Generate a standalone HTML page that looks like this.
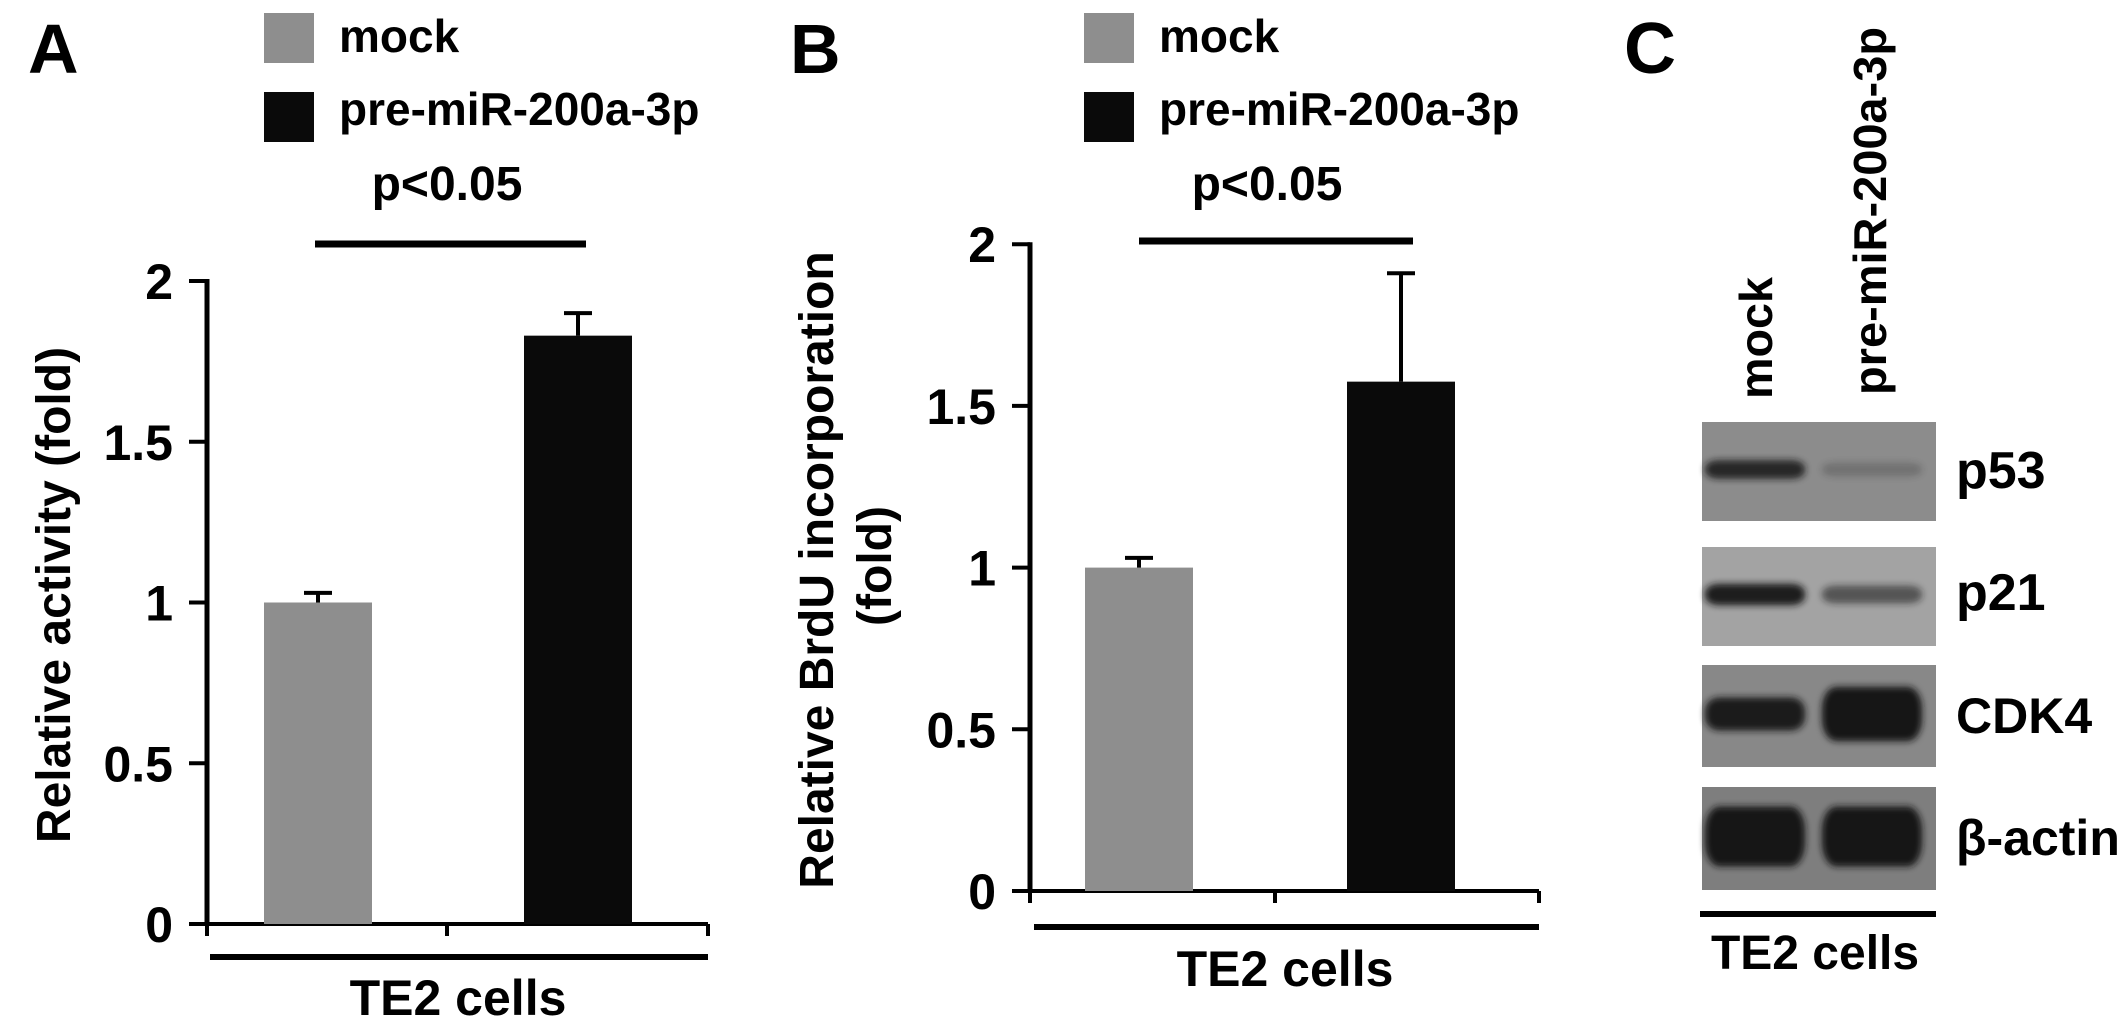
<!DOCTYPE html>
<html><head><meta charset="utf-8"><style>
html,body{margin:0;padding:0;background:#fff;}
svg{display:block;font-family:"Liberation Sans",Arial,sans-serif;font-weight:bold;}
</style></head><body>
<svg id="fig" width="2126" height="1035" viewBox="0 0 2126 1035" xmlns="http://www.w3.org/2000/svg">
<defs>
<filter id="blur3" x="-30%" y="-100%" width="160%" height="300%"><feGaussianBlur stdDeviation="3.5"/></filter>
</defs>
<g id="panelA"></g>
<g id="panelB"></g>
<g id="panelC"></g>
</svg>
<script>
// ---- data ----
const groups = ["mock", "pre-miR-200a-3p"];
const yTicks = [0, 0.5, 1, 1.5, 2];
const yTickLabels = ["0", "0.5", "1", "1.5", "2"];
const valuesA = [1.0, 1.83];
const errorsA = [0.03, 0.07];
const valuesB = [1.0, 1.575];
const errorsB = [0.03, 0.335];
const blotProteins = ["p53", "p21", "CDK4", "β-actin"];
const blotMock = [0.85, 0.95, 0.95, 1.0];
const blotTreated = [0.22, 0.55, 1.0, 1.0];

const NS = "http://www.w3.org/2000/svg";
function mk(parent, tag, attrs, text) {
  const e = document.createElementNS(NS, tag);
  for (const k in attrs) e.setAttribute(k, attrs[k]);
  if (text !== undefined) e.textContent = text;
  parent.appendChild(e);
  return e;
}
const colors = ["#8e8e8e", "#0a0a0a"];

function drawPanel(g, cfg, values, errors) {
  const y = v => cfg.y0 - v * cfg.unit;
  const L = mk(g, "text", {x: cfg.letterX, y: 73, "font-size": 70}, cfg.letter);
  
  
  groups.forEach((gname, i) => {
    const r = mk(g, "rect", {x: cfg.legX, y: 13 + i * 79, width: 50, height: 50, fill: colors[i]});
    
    
    const t = mk(g, "text", {x: cfg.legX + 75, y: 52 + i * 73, "font-size": 46}, gname);
    
    
  });
  const s = mk(g, "line", {x1: cfg.sigX1, x2: cfg.sigX2, y1: cfg.sigY, y2: cfg.sigY, stroke: "#000", "stroke-width": 7});
  
  
  const p = mk(g, "text", {x: cfg.pX, y: 200, "font-size": 48, "text-anchor": "middle"}, "p<0.05");
  
  
  const ax = mk(g, "line", {x1: cfg.axX, x2: cfg.axX, y1: y(2) - 2, y2: y(0) + 2, stroke: "#000", "stroke-width": 5});
  
  
  yTicks.forEach((v, i) => {
    const tk = mk(g, "line", {x1: cfg.axX - 18, x2: cfg.axX, y1: y(v), y2: y(v), stroke: "#000", "stroke-width": 4});
    
    
    const tl = mk(g, "text", {x: cfg.axX - 34, y: y(v) + 18, "font-size": 50, "text-anchor": "end"}, yTickLabels[i]);
    
    
  });
  const xa = mk(g, "line", {x1: cfg.xaX1, x2: cfg.xaX2, y1: y(0), y2: y(0), stroke: "#000", "stroke-width": 4});
  
  
  cfg.xTicks.forEach(xt => {
    const t = mk(g, "line", {x1: xt, x2: xt, y1: y(0), y2: y(0) + 12, stroke: "#000", "stroke-width": 4});
    
    
  });
  const ul = mk(g, "line", {x1: cfg.ulX1, x2: cfg.xaX2, y1: cfg.ulY, y2: cfg.ulY, stroke: "#000", "stroke-width": 6});
  
  
  const te = mk(g, "text", {x: cfg.teX, y: cfg.teY, "font-size": 50, "text-anchor": "middle"}, "TE2 cells");
  
  
  values.forEach((v, i) => {
    const cx = cfg.barCx[i];
    const b = mk(g, "rect", {x: cx - cfg.barW / 2, y: y(v), width: cfg.barW, height: y(0) - y(v), fill: colors[i]});
    
    
    const et = y(v + errors[i]);
    const e1 = mk(g, "line", {x1: cx, x2: cx, y1: et, y2: y(v), stroke: "#000", "stroke-width": 4});
    
    
    const e2 = mk(g, "line", {x1: cx - 14, x2: cx + 14, y1: et, y2: et, stroke: "#000", "stroke-width": 4});
    
    
  });
  cfg.titles.forEach(t => {
    const tt = mk(g, "text", {x: 0, y: 0, "font-size": 48, "text-anchor": "middle",
      transform: `translate(${t.x},${t.y}) rotate(-90)`}, t.text);
    
    
  });
}

drawPanel(document.getElementById("panelA"), {
  letter: "A", letterX: 28, legX: 264, sigX1: 315, sigX2: 586, sigY: 244, pX: 447,
  axX: 207, y0: 924, unit: 321.5, xaX1: 207, xaX2: 708, xTicks: [207, 447, 708],
  ulX1: 210, ulY: 957, teX: 458, teY: 1015, barCx: [318, 578], barW: 108,
  titles: [{x: 70, y: 595, text: "Relative activity (fold)"}]
}, valuesA, errorsA);

drawPanel(document.getElementById("panelB"), {
  letter: "B", letterX: 790, legX: 1084, sigX1: 1139, sigX2: 1413, sigY: 241, pX: 1267,
  axX: 1030, y0: 891, unit: 323.4, xaX1: 1017, xaX2: 1539, xTicks: [1030, 1275, 1539],
  ulX1: 1034, ulY: 927, teX: 1285, teY: 986, barCx: [1139, 1401], barW: 108,
  titles: [{x: 833, y: 570, text: "Relative BrdU incorporation"}, {x: 891, y: 566, text: "(fold)"}]
}, valuesB, errorsB);

// ---- panel C (western blot) ----
const gc = document.getElementById("panelC");
const Cl = mk(gc, "text", {x: 1624, y: 73, "font-size": 72}, "C");


const laneLabels = [{x: 1772, text: "mock", len: 122}, {x: 1886, text: "pre-miR-200a-3p", len: 368}];
laneLabels.forEach(l => {
  const t = mk(gc, "text", {x: 0, y: 0, "font-size": 46, textLength: l.len, lengthAdjust: "spacingAndGlyphs",
    transform: `translate(${l.x},${l.text === "mock" ? 399 : 395}) rotate(-90)`}, l.text);
  
  
});
const blotTop = [422, 547, 665, 787];
const blotH = [99, 99, 102, 103];
const blotBg = ["#8c8c8c", "#a3a3a3", "#888888", "#7e7e7e"];
const bandH = [20, 22, 34, 60];
blotProteins.forEach((name, i) => {
  const top = blotTop[i], h = blotH[i], cy = top + h / 2 - 2;
  const r = mk(gc, "rect", {x: 1702, y: top, width: 234, height: h, fill: blotBg[i]});
  
  
  const amp = [blotMock[i], blotTreated[i]];
  const cxs = [1755, 1872];
  amp.forEach((a, j) => {
    const bh = bandH[i] * (j === 1 && i === 2 ? 1.6 : (0.6 + 0.4 * a));
    const b = mk(gc, "rect", {x: cxs[j] - 50, y: cy - bh / 2, width: 100, height: bh, rx: 14, ry: bh / 2.5, fill: "#151515", opacity: a, filter: "url(#blur3)"});
    
    
  });
  const t = mk(gc, "text", {x: 1956, y: [488, 610, 733, 855][i], "font-size": [52, 52, 50, 50][i]}, name);
  
  
});
const cl = mk(gc, "line", {x1: 1700, x2: 1936, y1: 914, y2: 914, stroke: "#000", "stroke-width": 6});


const ct = mk(gc, "text", {x: 1815, y: 969, "font-size": 48, "text-anchor": "middle"}, "TE2 cells");


</script>
</body></html>
